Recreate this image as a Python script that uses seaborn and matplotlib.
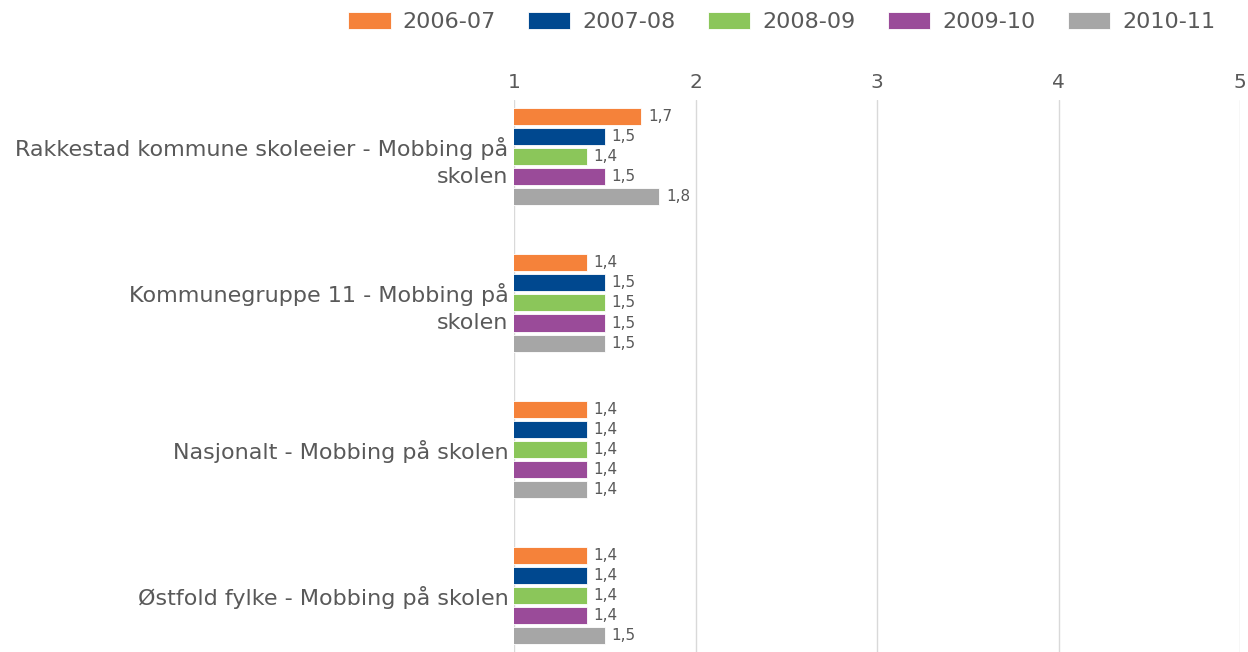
import pandas as pd
import matplotlib.pyplot as plt
import seaborn as sns

# data
categories = [
    'Rakkestad kommune skoleeier - Mobbing på\nskolen',
    'Kommunegruppe 11 - Mobbing på\nskolen',
    'Nasjonalt - Mobbing på skolen',
    'Østfold fylke - Mobbing på skolen',
]
years = ['2006-07', '2007-08', '2008-09', '2009-10', '2010-11']
values_2006 = [1.7, 1.4, 1.4, 1.4]
values_2007 = [1.5, 1.5, 1.4, 1.4]
values_2008 = [1.4, 1.5, 1.4, 1.4]
values_2009 = [1.5, 1.5, 1.4, 1.4]
values_2010 = [1.8, 1.5, 1.4, 1.5]
colors = ['#F5823A', '#00488F', '#8BC65A', '#9A4B99', '#A6A6A6']
x_ticks = [1, 2, 3, 4, 5]

series = [values_2006, values_2007, values_2008, values_2009, values_2010]
rows = []
for year, vals in zip(years, series):
    for cat, v in zip(categories, vals):
        rows.append({'kategori': cat, 'år': year, 'verdi': v})
df = pd.DataFrame(rows)

sns.set_style('white')
plt.rcParams['font.family'] = ['DejaVu Sans']
text_col = '#595959'

fig = plt.figure(figsize=(12.48, 6.52), dpi=100)
ax = fig.add_axes([0.4119, 0.0, 0.5817, 0.8466])

sns.barplot(data=df, y='kategori', x='verdi', hue='år', order=categories,
            hue_order=years, palette=colors, saturation=1, orient='y',
            width=0.685, gap=0.15, edgecolor='white', linewidth=0.6,
            ax=ax, legend=True)

for cont in ax.containers:
    ax.bar_label(cont, fmt=lambda v: f'{v:.1f}'.replace('.', ','),
                 padding=5, fontsize=11, color=text_col)

ax.set_xlim(1, 5)
ax.set_ylim(3.39, -0.39)
ax.set_xticks(x_ticks)
ax.xaxis.tick_top()
ax.tick_params(axis='x', length=0, labelsize=14.5, labelcolor=text_col, pad=6)
ax.tick_params(axis='y', length=0, labelsize=16, labelcolor=text_col, pad=4)
for lbl in ax.get_yticklabels():
    lbl.set_multialignment('right')
    lbl.set_linespacing(1.4)
ax.grid(axis='x', color='#D9D9D9', linewidth=1)
ax.set_axisbelow(True)
for s in ax.spines.values():
    s.set_visible(False)
ax.set_xlabel('')
ax.set_ylabel('')

handles, labels = ax.get_legend_handles_labels()
ax.legend_.remove()
fig.legend(handles, labels, loc='upper right', bbox_to_anchor=(0.99, 1.012),
           ncol=5, frameon=False, fontsize=16, handlelength=1.9,
           handleheight=0.8, columnspacing=1.45, handletextpad=0.55,
           labelcolor=text_col)

fig.savefig('out.png', dpi=100)
